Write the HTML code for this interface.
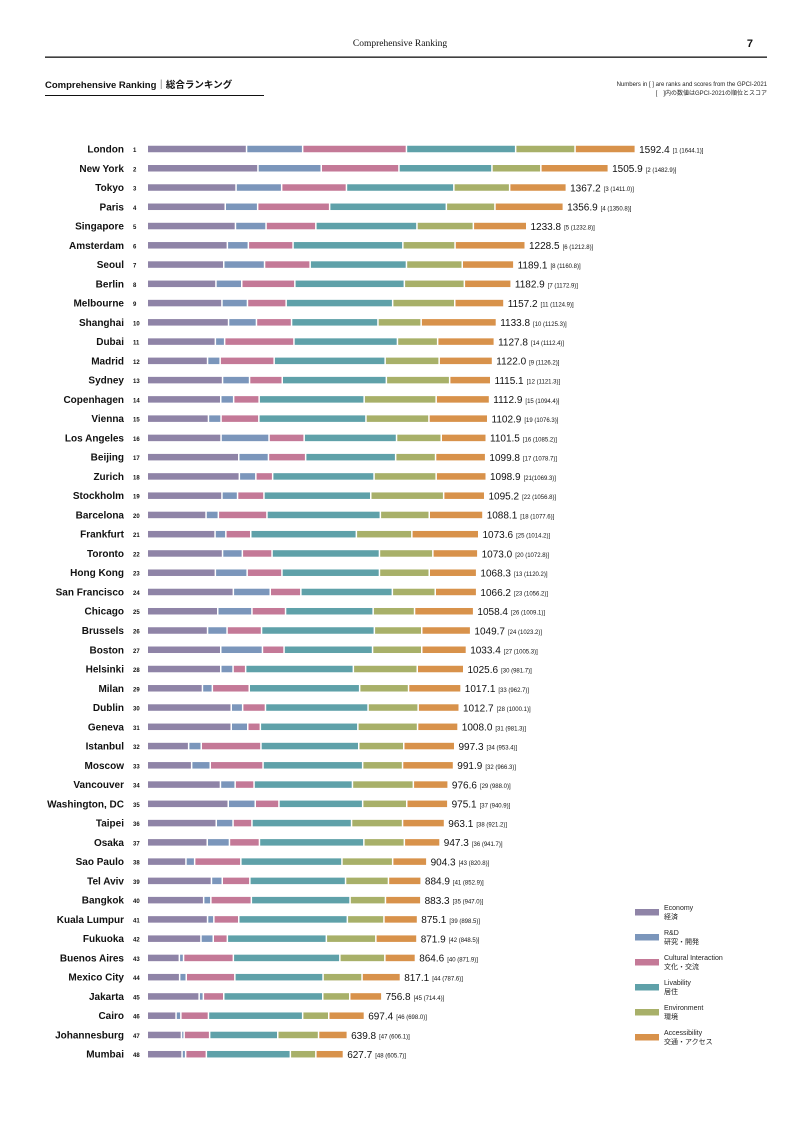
<!DOCTYPE html>
<html><head><meta charset="utf-8">
<style>
body{margin:0;background:#fff;}
svg{display:block;font-family:"Liberation Sans","Noto Sans CJK JP",sans-serif;}
</style></head>
<body>
<svg id="chart" width="793" height="1122" viewBox="0 0 793 1122">
<text x="400" y="46" text-anchor="middle" font-family="Liberation Serif, serif" font-size="9.5" fill="#111">Comprehensive Ranking</text>
<text x="753" y="47" text-anchor="end" font-size="11" font-weight="bold" fill="#111">7</text>
<rect x="45" y="56.5" width="722" height="1.3" fill="#111"/>
<text x="45" y="88" font-size="9.5" font-weight="bold" fill="#111">Comprehensive Ranking｜総合ランキング</text>
<rect x="45" y="95" width="219" height="1" fill="#111"/>
<text x="767" y="86" text-anchor="end" font-size="6" fill="#222">Numbers in [ ] are ranks and scores from the GPCI-2021</text>
<text x="767" y="95" text-anchor="end" font-size="6" fill="#222">[　]内の数値はGPCI-2021の順位とスコア</text>
<g id="bars"></g>
<g id="legend"></g>
</svg>
<script>
const cities=["London","New York","Tokyo","Paris","Singapore","Amsterdam","Seoul","Berlin","Melbourne","Shanghai","Dubai","Madrid","Sydney","Copenhagen","Vienna","Los Angeles","Beijing","Zurich","Stockholm","Barcelona","Frankfurt","Toronto","Hong Kong","San Francisco","Chicago","Brussels","Boston","Helsinki","Milan","Dublin","Geneva","Istanbul","Moscow","Vancouver","Washington, DC","Taipei","Osaka","Sao Paulo","Tel Aviv","Bangkok","Kuala Lumpur","Fukuoka","Buenos Aires","Mexico City","Jakarta","Cairo","Johannesburg","Mumbai"];
const totals=[1592.4,1505.9,1367.2,1356.9,1233.8,1228.5,1189.1,1182.9,1157.2,1133.8,1127.8,1122.0,1115.1,1112.9,1102.9,1101.5,1099.8,1098.9,1095.2,1088.1,1073.6,1073.0,1068.3,1066.2,1058.4,1049.7,1033.4,1025.6,1017.1,1012.7,1008.0,997.3,991.9,976.6,975.1,963.1,947.3,904.3,884.9,883.3,875.1,871.9,864.6,817.1,756.8,697.4,639.8,627.7];
const prev=["[1 (1644.1)]","[2 (1482.9)]","[3 (1411.0)]","[4 (1350.8)]","[5 (1232.8)]","[6 (1212.8)]","[8 (1160.8)]","[7 (1172.9)]","[11 (1124.9)]","[10 (1125.3)]","[14 (1112.4)]","[9 (1126.2)]","[12 (1121.3)]","[15 (1094.4)]","[19 (1076.3)]","[16 (1085.2)]","[17 (1078.7)]","[21(1069.3)]","[22 (1056.8)]","[18 (1077.6)]","[25 (1014.2)]","[20 (1072.8)]","[13 (1120.2)]","[23 (1056.2)]","[26 (1009.1)]","[24 (1023.2)]","[27 (1005.3)]","[30 (981.7)]","[33 (962.7)]","[28 (1000.1)]","[31 (981.3)]","[34 (953.4)]","[32 (966.3)]","[29 (988.0)]","[37 (940.9)]","[38 (921.2)]","[36 (941.7)]","[43 (820.8)]","[41 (852.9)]","[35 (947.0)]","[39 (898.5)]","[42 (848.5)]","[40 (871.9)]","[44 (787.6)]","[45 (714.4)]","[46 (698.0)]","[47 (606.1)]","[48 (605.7)]"];
const economy=[326,364,291,255,289,262,250,224,244,266,222,196,246,240,199,241,300,302,244,191,221,246,222,282,230,196,240,240,179,275,275,133,143,239,265,225,195,124,209,183,196,174,102,103,168,91,109,111];
const rnd=[182,206,147,103,97,65,131,81,80,88,26,37,85,38,37,155,94,50,47,36,31,61,101,118,109,60,134,36,28,33,50,37,57,44,85,51,69,24,31,19,16,36,9,17,9,11,4,7];
const cultural=[341,254,211,235,161,144,147,172,124,112,226,175,104,80,121,112,119,51,83,157,78,94,111,97,107,110,67,37,118,71,37,194,171,58,74,58,95,149,87,130,78,42,161,157,63,87,80,64];
const livability=[359,305,353,384,332,361,316,360,350,283,340,365,342,345,352,303,295,333,351,373,347,353,320,300,287,371,290,354,363,337,320,321,327,323,274,327,343,332,314,324,357,325,350,289,325,309,222,275];
const environment=[193,158,181,157,183,169,181,195,202,139,129,175,206,235,205,144,128,202,238,158,180,173,161,138,133,153,159,208,158,162,194,145,128,198,142,165,130,164,138,113,117,160,145,125,85,82,131,80];
const accessibility=[196,220,184,223,173,229,167,151,159,246,184,173,132,173,191,145,162,162,132,174,218,145,153,133,192,158,144,150,170,132,130,165,165,111,132,135,114,109,104,113,107,132,97,123,102,114,91,87];
const series=[economy,rnd,cultural,livability,environment,accessibility];
const seriesNames=["economy","rnd","cultural-interaction","livability","environment","accessibility"];
const legendEn=["Economy","R&D","Cultural Interaction","Livability","Environment","Accessibility"];
const legendJa=["経済","研究・開発","文化・交流","居住","環境","交通・アクセス"];
const colors=["#8f84a7","#7b96bb","#c47997","#5fa1a9","#a8b069","#d8924b"];

const NS="http://www.w3.org/2000/svg";
const x0=148, scale=0.3, gap=1.5, y0=149, step=19.26, bh=6.5;
const xs=v=>v*scale;
const yr=i=>y0+i*step;
function mk(tag,attrs,parent){const e=document.createElementNS(NS,tag);for(const k in attrs)e.setAttribute(k,attrs[k]);parent.appendChild(e);return e;}
const g=document.getElementById('bars');
cities.forEach((c,i)=>{
  const y=yr(i);
  const row=mk('g',{},g);
  
  
  const t=mk('text',{x:124,y:y+3.5,'text-anchor':'end','font-size':'10','font-weight':'bold',fill:'#111'},row);
  t.textContent=c;
  
  
  const r=mk('text',{x:133,y:y+3,'font-size':'6','font-weight':'bold',fill:'#111'},row);
  r.textContent=String(i+1);
  
  
  let x=x0;
  series.forEach((s,k)=>{
    const w=xs(s[i]);
    const b=mk('rect',{x:x,y:y-bh/2,width:Math.max(w,0.8),height:bh,fill:colors[k]},row);
    
    
    x+=w+gap;
  });
  const v=mk('text',{x:x+3,y:y+3.8,'font-size':'10',fill:'#111'},row);
  
  
  const s1=mk('tspan',{},v);
  s1.textContent=totals[i].toFixed(1);
  const s2=mk('tspan',{dx:'3','font-size':'6',dy:'-0.3'},v);
  s2.textContent=prev[i];
  
  
});
const lg=document.getElementById('legend');
legendEn.forEach((n,k)=>{
  const y=912+k*25;
  const e=mk('g',{},lg);
  
  
  const sw=mk('rect',{x:635,y:y-3,width:24,height:6.5,fill:colors[k]},e);
  
  
  const a=mk('text',{x:664,y:y-2,'font-size':'7',fill:'#222'},e);
  a.textContent=n;
  
  
  const b=mk('text',{x:664,y:y+7,'font-size':'7',fill:'#222'},e);
  b.textContent=legendJa[k];
  
  
});
</script>
</body></html>
